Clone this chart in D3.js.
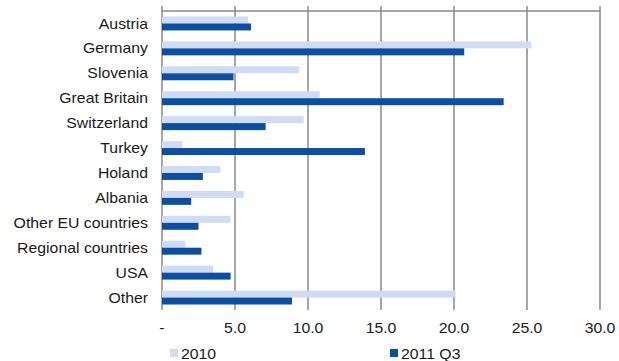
<!DOCTYPE html>
<html>
<head>
<meta charset="utf-8">
<script src="https://cdn.jsdelivr.net/npm/d3@7"></script>
<style>
  html, body { margin: 0; padding: 0; background: #fff; }
  svg { display: block; font-family: Arial, "Liberation Sans", sans-serif; }
</style>
</head>
<body>
<svg id="chart" width="619" height="361"></svg>
<script>
// Categories and values (per cent share)
const categories = ["Austria", "Germany", "Slovenia", "Great Britain", "Switzerland", "Turkey",
  "Holand", "Albania", "Other EU countries", "Regional countries", "USA", "Other"];
const values2010 = [5.9, 25.3, 9.4, 10.8, 9.7, 1.4, 4.0, 5.6, 4.7, 1.6, 3.5, 20.1];
const values2011Q3 = [6.1, 20.7, 4.9, 23.4, 7.1, 13.9, 2.8, 2.0, 2.5, 2.7, 4.7, 8.9];
const seriesNames = ["2010", "2011 Q3"];
const tickValues = [0, 5, 10, 15, 20, 25, 30];
const tickLabels = ["-", "5.0", "10.0", "15.0", "20.0", "25.0", "30.0"];

const colors = ["#cfdcf3", "#0a4fa3"];
const textColor = "#1a1a1a";
const fontSize = 14;
const stretch = 1.13; // text is set slightly wide
const svg = d3.select("#chart");

const plotLeft = 162, plotRight = 600, plotTop = 11, plotBottom = 310;

const x = d3.scaleLinear().domain([0, 30]).range([plotLeft, plotRight]);
const y = d3.scaleBand().domain(categories).range([plotTop, plotBottom])
  .paddingInner(0.44).paddingOuter(0.22);
const ySub = d3.scaleBand().domain(seriesNames).range([0, y.bandwidth()]);

// vertical gridlines
svg.append("g").selectAll("line").data(tickValues).join("line")
  .attr("x1", d => x(d)).attr("x2", d => x(d))
  .attr("y1", plotTop - 5).attr("y2", plotBottom)
  .attr("stroke", "#8a8a8a").attr("stroke-width", 1.5);

// top frame line
svg.append("line")
  .attr("x1", plotLeft).attr("x2", plotRight).attr("y1", plotTop).attr("y2", plotTop)
  .attr("stroke", "#8a8a8a").attr("stroke-width", 1.5);

// bars
const series = [values2010, values2011Q3];
series.forEach((vals, si) => {
  svg.append("g").selectAll("rect").data(categories).join("rect")
    .attr("x", x(0))
    .attr("y", (c) => y(c) + ySub(seriesNames[si]))
    .attr("width", (c, i) => x(vals[i]) - x(0))
    .attr("height", ySub.bandwidth())
    .attr("fill", colors[si]);
});

// category labels
svg.append("g").selectAll("text").data(categories).join("text")
  .attr("transform", c => `translate(148,${y(c) + y.bandwidth() / 2}) scale(${stretch},1)`)
  .attr("dy", "0.36em")
  .attr("text-anchor", "end")
  .attr("font-size", fontSize)
  .attr("fill", textColor)
  .text(c => c);

// value axis labels
svg.append("g").selectAll("text").data(tickValues).join("text")
  .attr("transform", d => `translate(${x(d)},333) scale(${stretch},1)`)
  .attr("text-anchor", "middle")
  .attr("font-size", fontSize)
  .attr("fill", textColor)
  .text((d, i) => tickLabels[i]);

// legend
const legendX = [170, 390];
seriesNames.forEach((name, i) => {
  svg.append("rect")
    .attr("x", legendX[i]).attr("y", 349).attr("width", 8).attr("height", 8)
    .attr("fill", colors[i]);
  svg.append("text")
    .attr("transform", `translate(${legendX[i] + 11},359) scale(${stretch},1)`)
    .attr("font-size", fontSize).attr("fill", textColor)
    .text(name);
});
</script>
</body>
</html>
